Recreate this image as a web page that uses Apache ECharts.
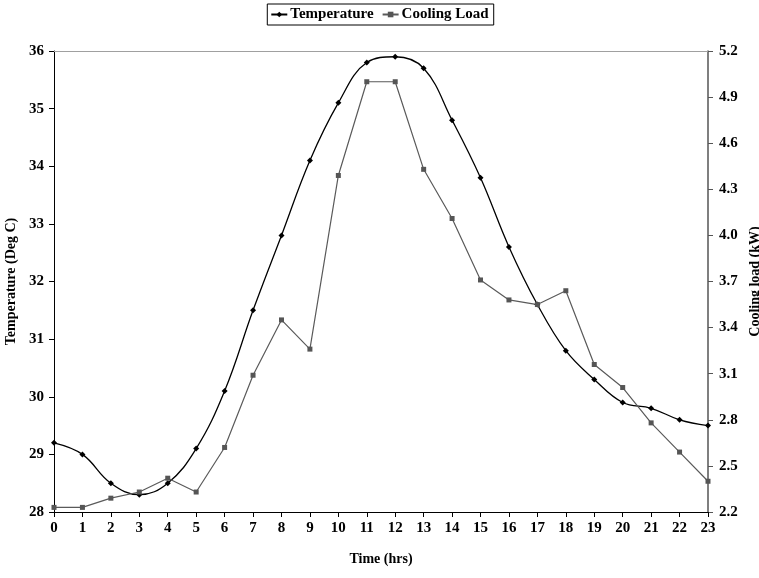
<!DOCTYPE html>
<html>
<head>
<meta charset="utf-8">
<script src="https://cdn.jsdelivr.net/npm/echarts@6/dist/echarts.min.js"></script>
<style>html,body{margin:0;padding:0;background:#fff}#c{width:759px;height:578px}</style>
</head>
<body>
<div id="c"></div>
<script>
const hours = ['0','1','2','3','4','5','6','7','8','9','10','11','12','13','14','15','16','17','18','19','20','21','22','23'];
const temperature = [29.2,29.0,28.5,28.3,28.5,29.1,30.1,31.5,32.8,34.1,35.1,35.8,35.9,35.7,34.8,33.8,32.6,31.6,30.8,30.3,29.9,29.8,29.6,29.5];
const coolingLoad = [2.23,2.23,2.29,2.33,2.42,2.33,2.62,3.09,3.45,3.26,4.39,5.0,5.0,4.43,4.11,3.71,3.58,3.55,3.64,3.16,3.01,2.78,2.59,2.40];

const font = 'Liberation Serif, Times New Roman, serif';
const txt = {fontFamily: font, fontWeight: 'bold', fontSize: 14, color: '#000'};
const chart = echarts.init(document.getElementById('c'), null, {renderer: 'canvas'});
chart.setOption({
  animation: false,
  backgroundColor: '#fff',
  textStyle: {fontFamily: font},
  legend: {
    top: 4, left: 'center',
    borderColor: '#000', borderWidth: 1, borderRadius: 0,
    padding: [3, 5, 3, 3],
    itemGap: 8, itemWidth: 16, itemHeight: 7,
    textStyle: Object.assign({}, txt, {fontSize: 15, padding: [0, 0, 0, -2]}),
    data: ['Temperature', 'Cooling Load']
  },
  grid: {left: 54, right: 51, top: 51, bottom: 66, containLabel: false, outerBoundsMode: 'none'},
  xAxis: [{
    type: 'category', data: hours, boundaryGap: false,
    name: 'Time (hrs)', nameLocation: 'middle', nameGap: 40,
    nameTextStyle: txt,
    axisLine: {lineStyle: {color: '#000', width: 1}},
    axisTick: {show: true, inside: false, length: 5, lineStyle: {color: '#000'}, alignWithLabel: true},
    axisLabel: Object.assign({}, txt, {fontSize: 15, margin: 9, interval: 0}),
    splitLine: {show: false}
  }, {
    type: 'category', data: hours, boundaryGap: false, position: 'top',
    axisLine: {show: true, lineStyle: {color: '#a0a0a0', width: 1}},
    axisTick: {show: false}, axisLabel: {show: false}, splitLine: {show: false}
  }],
  yAxis: [{
    type: 'value', min: 28, max: 36, interval: 1, position: 'left',
    name: 'Temperature (Deg C)', nameLocation: 'middle', nameGap: 29, nameRotate: 90,
    nameTextStyle: txt,
    axisLine: {show: true, lineStyle: {color: '#000', width: 1}},
    axisTick: {show: true, length: 5, lineStyle: {color: '#000'}},
    axisLabel: Object.assign({}, txt, {fontSize: 15, margin: 10}),
    splitLine: {show: false}
  }, {
    type: 'value', min: 2.2, max: 5.2, interval: 0.3, position: 'right',
    name: 'Cooling load (kW)', nameLocation: 'middle', nameGap: 33, nameRotate: 90,
    nameTextStyle: txt,
    axisLine: {show: true, lineStyle: {color: '#555', width: 1.5}},
    axisTick: {show: true, length: 5, lineStyle: {color: '#555'}},
    axisLabel: Object.assign({}, txt, {fontSize: 15, margin: 11, formatter: v => v.toFixed(1)}),
    splitLine: {show: false}
  }],
  series: [{
    name: 'Temperature', type: 'line', data: temperature,
    xAxisIndex: 0, yAxisIndex: 0, smooth: 0.4,
    symbol: 'diamond', symbolSize: 6, showAllSymbol: true,
    lineStyle: {color: '#000', width: 1.3},
    itemStyle: {color: '#000'}
  }, {
    name: 'Cooling Load', type: 'line', data: coolingLoad,
    xAxisIndex: 0, yAxisIndex: 1, smooth: false,
    symbol: 'rect', symbolSize: 5, showAllSymbol: true,
    lineStyle: {color: '#5a5a5a', width: 1.2},
    itemStyle: {color: '#555'}
  }]
});
</script>
</body>
</html>
